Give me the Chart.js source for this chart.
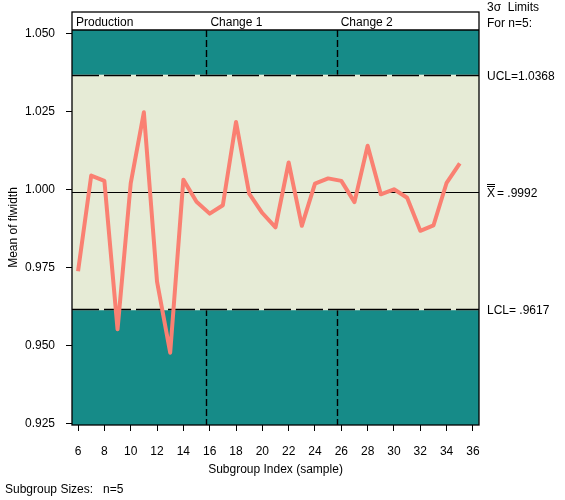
<!DOCTYPE html>
<html>
<head>
<meta charset="utf-8">
<script src="https://cdn.jsdelivr.net/npm/chart.js@4.4.0/dist/chart.umd.min.js"></script>
<style>
  html, body { margin: 0; padding: 0; background: #fff; }
  #wrap { width: 565px; height: 500px; position: relative; }
</style>
</head>
<body>
<div id="wrap"><canvas id="xbar-chart"></canvas></div>
<script>
// subgroup means
const subgroups = [6, 7, 8, 9, 10, 11, 12, 13, 14, 15, 16, 17, 18, 19, 20,
                   21, 22, 23, 24, 25, 26, 27, 28, 29, 30, 31, 32, 33, 34, 35];
const means = [0.9738, 1.0045, 1.0028, 0.9552, 1.0020, 1.0248, 0.9705, 0.9477, 1.0032, 0.9961,
               0.9923, 0.9950, 1.0217, 0.9987, 0.9925, 0.9879, 1.0087, 0.9884, 1.0019, 1.0036,
               1.0028, 0.9960, 1.0141, 0.9985, 1.0001, 0.9974, 0.9868, 0.9885, 1.0022, 1.0084];
const xTicks = [6, 8, 10, 12, 14, 16, 18, 20, 22, 24, 26, 28, 30, 32, 34, 36];
const yTicks = [0.925, 0.950, 0.975, 1.000, 1.025, 1.050];
const phaseNames = ['Production', 'Change 1', 'Change 2'];
const phaseStarts = [5.54, 15.75, 25.65];
const centerLine = 0.9992;
const ucl = 1.0368;
const lcl = 0.9617;
const sampleSize = 5;

const TEAL = '#168b88';
const LIGHT = '#e6ebd6';
const LINE = '#fa8072';
const FONT = "'Liberation Sans', Arial, sans-serif";

Chart.defaults.font.family = FONT;
Chart.defaults.font.size = 12;
Chart.defaults.color = '#000';

function strokeLine(ctx, x1, y1, x2, y2) {
    ctx.beginPath();
    ctx.moveTo(x1, y1);
    ctx.lineTo(x2, y2);
    ctx.stroke();
}

// snap to the pixel grid so 1px rules stay black
const crisp = v => Math.round(v) + 0.5;

const controlBands = {
    id: 'controlBands',
    beforeDatasetsDraw(chart) {
        const { ctx, chartArea: a, scales: { x, y } } = chart;
        const yU = y.getPixelForValue(ucl);
        const yL = y.getPixelForValue(lcl);
        const yC = y.getPixelForValue(centerLine);
        ctx.save();
        ctx.fillStyle = TEAL;
        ctx.fillRect(a.left, a.top, a.width, a.height);
        ctx.fillStyle = LIGHT;
        ctx.fillRect(a.left, yU, a.width, yL - yU);

        // phase boundaries, only in the out-of-limit zones
        ctx.strokeStyle = '#000';
        ctx.lineWidth = 1.4;
        ctx.setLineDash([7, 3]);
        phaseStarts.slice(1).forEach(v => {
            const px = crisp(x.getPixelForValue(v));
            strokeLine(ctx, px, a.top, px, yU);
            strokeLine(ctx, px, yL, px, a.bottom);
        });

        // control limits: dashed black over a light line
        ctx.lineWidth = 1.5;
        [yU, yL].forEach(v => {
            const py = crisp(v);
            ctx.setLineDash([]);
            ctx.strokeStyle = LIGHT;
            strokeLine(ctx, a.left, py, a.right, py);
            ctx.setLineDash([27, 5]);
            ctx.strokeStyle = '#000';
            strokeLine(ctx, a.left, py, a.right, py);
        });

        // center line
        ctx.setLineDash([]);
        ctx.lineWidth = 1;
        strokeLine(ctx, a.left, crisp(yC), a.right, crisp(yC));
        ctx.restore();
    },
    afterDraw(chart) {
        const { ctx, chartArea: a, scales: { x, y } } = chart;
        const headTop = a.top - 18;
        ctx.save();

        // phase header strip
        ctx.fillStyle = '#fff';
        ctx.fillRect(a.left, headTop, a.width, 18);
        ctx.fillStyle = '#000';
        ctx.font = '12px ' + FONT;
        ctx.textBaseline = 'middle';
        ctx.textAlign = 'left';
        phaseNames.forEach((name, i) => {
            ctx.fillText(name, x.getPixelForValue(phaseStarts[i]) + 4, a.top - 7);
        });

        // frame
        ctx.strokeStyle = '#000';
        ctx.lineWidth = 1.3;
        ctx.strokeRect(a.left, headTop, a.width, a.height + 18);
        strokeLine(ctx, a.left, a.top, a.right, a.top);

        // limit labels on the right
        const lx = a.right + 8;
        ctx.fillText('3\u03c3  Limits', lx, 8);
        ctx.fillText('For n=' + sampleSize + ':', lx, 24);
        ctx.fillText('UCL=' + ucl.toFixed(4), lx, y.getPixelForValue(ucl) + 2);
        ctx.fillText('LCL= ' + lcl.toFixed(4).replace(/^0/, ''), lx, y.getPixelForValue(lcl) + 2);

        const yC = y.getPixelForValue(centerLine) + 2;
        ctx.fillText('X', lx, yC);
        const xw = ctx.measureText('X').width;
        ctx.fillText('= ' + centerLine.toFixed(4).replace(/^0/, ''), lx + xw + 2, yC);
        ctx.lineWidth = 1;
        strokeLine(ctx, lx, crisp(yC - 8), lx + xw, crisp(yC - 8));
        strokeLine(ctx, lx, crisp(yC - 10.5), lx + xw, crisp(yC - 10.5));

        // footnote
        ctx.fillText('Subgroup Sizes:   n=' + sampleSize, 5, 490);
        ctx.restore();
    }
};

const ctx = document.getElementById('xbar-chart').getContext('2d');
new Chart(ctx, {
    type: 'line',
    data: {
        datasets: [{
            label: 'Mean of flwidth',
            data: subgroups.map((s, i) => ({ x: s, y: means[i] })),
            borderColor: LINE,
            borderWidth: 4,
            borderJoinStyle: 'round',
            pointRadius: 0,
            tension: 0,
            fill: false
        }]
    },
    options: {
        responsive: true,
        maintainAspectRatio: false,
        animation: false,
        layout: { padding: { top: 30, right: 86, bottom: 20, left: 0 } },
        plugins: {
            legend: { display: false },
            tooltip: { enabled: false }
        },
        scales: {
            x: {
                type: 'linear',
                min: 5.54,
                max: 36.46,
                afterBuildTicks: s => { s.ticks = xTicks.map(v => ({ value: v })); },
                afterFit: s => { s.height = 55; },
                ticks: {
                    autoSkip: false,
                    maxRotation: 0,
                    padding: 13,
                    callback: v => String(v)
                },
                grid: { drawOnChartArea: false, tickLength: 6, tickColor: '#000' },
                border: { display: false },
                title: { display: true, text: 'Subgroup Index (sample)', padding: { top: 2, bottom: 3 } }
            },
            y: {
                min: 0.9245,
                max: 1.0512,
                afterBuildTicks: s => { s.ticks = yTicks.map(v => ({ value: v })); },
                afterFit: s => { s.width = 72; },
                ticks: {
                    padding: 11,
                    callback: v => v.toFixed(3)
                },
                grid: { drawOnChartArea: false, tickLength: 6, tickColor: '#000' },
                border: { display: false },
                title: { display: true, text: 'Mean of flwidth', padding: { top: 6, bottom: 2 } }
            }
        }
    },
    plugins: [controlBands]
});
</script>
</body>
</html>
